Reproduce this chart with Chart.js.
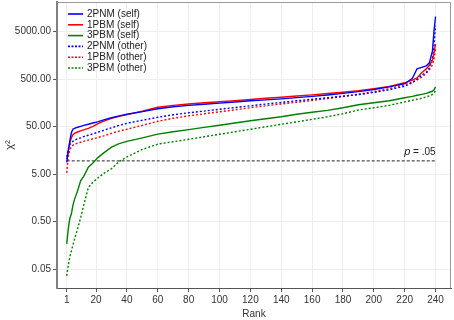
<!DOCTYPE html>
<html>
<head>
<meta charset="utf-8">
<script src="https://cdn.jsdelivr.net/npm/chart.js@4/dist/chart.umd.min.js"></script>
<style>
html, body { margin: 0; padding: 0; background: #fff; }
</style>
</head>
<body>
<canvas id="chiChart" width="454" height="320"></canvas>
<script>
const ranks = [1,2,3,4,5,6,8,10,12,15,18,21,25,30,35,40,50,60,70,80,90,100,110,120,130,140,150,160,170,180,190,200,210,220,225,228,231,234,236,238,239,240];

const pnm2Self = [8.8,15.5,25,37,44,46, 48.4,50.7,53,56,59.5,63,69.5, 76.6,84,91,103.5,118.5, 130.6,140,148,156,165,175,183,192,204, 216,231,250,273,303,344,400, 520,824,885,953,1100,1970,5200,10400];
const pbm1Self = [10.4,14.7,22.8,29,33.6,36, 38.5,40.8,42.8,46,50.7,57,65, 74.5,82,89.5,105,128, 140,150,159,167,176,186,197,208,220, 233,248,265,286,315,352,418, 475,530,680,820,980,1250,1800,2730];
const pbm3Self = [0.17,0.35,0.58,0.72,1.1,1.45, 2.2,3.6,4.5,7,8.6,11,14, 18.5,22,24.5,29,34.7, 38.9,43.2,48.1,53.5,59.5,66.2,73,80.4,90.8, 100,110,124.4,144,158.6,175,202, 217,228,239,251,264,277,298,344];
const pnm2Other = [11.6,17,20.7,22.8,24.5,25.8, 27.7,29,30.8,32.8,35.3,37.9,41.8, 47.2,53,58.7,67.9,78.5, 88.6,97.7,106,116,126,137,149,161,175, 188,202,219,236,262,298,355, 420,500,601,695,865,1337,2510,6620];
const pbm1Other = [5.3,11.6,16.2,18.8,20.2,21.2, 22.3,23.4,24.5,26,27.7,29.3,32, 36.1,40.2,43.9,53,64.7, 75,84.4,93,102.5,113,124.4,137,150,163, 177,195,215,240,272,315,385, 430,480,546,662,785,1000,1337,2170];
const pbm3Other = [0.036,0.06,0.09,0.12,0.16,0.21, 0.35,0.6,1.1,2.6,3.4,4.1,5.2, 6.5,9.2,11.5,16.5,21.4, 24,27,30.5,34.4,38.9,43.9,49.5,56,63, 71,80.4,93,112,124.4,140,166, 179,188,197,212,222,239,257,284];

const pCrit = 9.49;      // chi-square critical value, p = .05
const pLineRanks = [1, 240];
const xTicks = [1,20,40,60,80,100,120,140,160,180,200,220,240];
const yTicks = [0.05,0.5,5,50,500,5000];

const FONT = 'Arial, "Liberation Sans", sans-serif';

function pts(vals) {
    return ranks.map((r, i) => ({x: r, y: vals[i]}));
}

function series(label, vals, color, dotted) {
    return {
        label: label,
        data: pts(vals),
        borderColor: color,
        backgroundColor: color,
        borderWidth: 1.4,
        borderDash: dotted ? [2, 2] : [],
        pointRadius: 0,
        tension: 0
    };
}

// legend drawn inside the plot, top left
const innerLegend = {
    id: 'innerLegend',
    afterDraw(chart) {
        const ctx = chart.ctx;
        const area = chart.chartArea;
        ctx.save();
        ctx.font = '10px ' + FONT;
        ctx.textBaseline = 'middle';
        let row = 0;
        chart.data.datasets.forEach(ds => {
            if (ds.noLegend) return;
            const y = area.top + 12 + row * 10.8;
            ctx.strokeStyle = ds.borderColor;
            ctx.lineWidth = 1.6;
            ctx.setLineDash(ds.borderDash.length ? [2, 1.5] : []);
            ctx.beginPath();
            ctx.moveTo(area.left + 11, y);
            ctx.lineTo(area.left + 26, y);
            ctx.stroke();
            ctx.setLineDash([]);
            ctx.fillStyle = '#222';
            ctx.fillText(ds.label, area.left + 30, y);
            row++;
        });
        ctx.restore();
    }
};

// frame + p = .05 label
const extras = {
    id: 'extras',
    afterDraw(chart) {
        const ctx = chart.ctx;
        const a = chart.chartArea;
        const xs = chart.scales.x, ys = chart.scales.y;
        ctx.save();
        ctx.strokeStyle = '#9a9a9a';
        ctx.lineWidth = 1;
        ctx.beginPath();
        ctx.moveTo(a.left, a.top + 0.5);
        ctx.lineTo(a.right - 0.5, a.top + 0.5);
        ctx.lineTo(a.right - 0.5, a.bottom);
        ctx.stroke();

        const px = xs.getPixelForValue(pLineRanks[1]);
        const py = ys.getPixelForValue(pCrit) - 9;
        ctx.fillStyle = '#222';
        ctx.textBaseline = 'middle';
        ctx.textAlign = 'left';
        ctx.font = '10px ' + FONT;
        const rest = ' = .05';
        const wRest = ctx.measureText(rest).width;
        ctx.font = 'italic 11px ' + FONT;
        const wP = ctx.measureText('p').width;
        const x0 = px - wRest - wP;
        ctx.fillText('p', x0, py);
        ctx.font = '10px ' + FONT;
        ctx.fillText(rest, x0 + wP, py);
        ctx.restore();
    }
};

const datasets = [
    series('2PNM (self)', pnm2Self, '#0000ff', false),
    series('1PBM (self)', pbm1Self, '#ff0000', false),
    series('3PBM (self)', pbm3Self, '#008000', false),
    series('2PNM (other)', pnm2Other, '#0000ff', true),
    series('1PBM (other)', pbm1Other, '#ff0000', true),
    series('3PBM (other)', pbm3Other, '#008000', true)
];
datasets.push({
    label: 'p = .05',
    noLegend: true,
    data: pLineRanks.map(r => ({x: r, y: pCrit})),
    borderColor: '#222',
    borderWidth: 1,
    borderDash: [3, 2],
    pointRadius: 0
});

new Chart(document.getElementById('chiChart'), {
    type: 'line',
    data: { datasets: datasets },
    plugins: [innerLegend, extras],
    options: {
        responsive: false,
        animation: false,
        devicePixelRatio: 1,
        layout: { padding: { top: 2, right: 3, left: 0, bottom: 0 } },
        plugins: { legend: { display: false }, tooltip: { enabled: false } },
        scales: {
            x: {
                type: 'linear',
                min: -5.3,
                max: 250,
                afterBuildTicks: s => { s.ticks = xTicks.map(v => ({value: v})); },
                afterFit: s => { s.height = 32; s.paddingLeft = 0; s.paddingRight = 0; },
                ticks: { autoSkip: false, maxRotation: 0, padding: 2, color: '#333', font: {size: 10, family: FONT} },
                grid: { color: '#eeeeee', tickLength: 4, tickColor: '#555' },
                border: { color: '#555', width: 1 },
                title: { display: true, text: 'Rank', color: '#333', font: {size: 10, family: FONT}, padding: {top: 0, bottom: 0} }
            },
            y: {
                type: 'logarithmic',
                min: 0.02,
                max: 21000,
                afterBuildTicks: s => { s.ticks = yTicks.map(v => ({value: v})); },
                afterFit: s => { s.width = 57; s.paddingTop = 0; s.paddingBottom = 0; },
                ticks: { autoSkip: false, padding: 2, color: '#333', font: {size: 10, family: FONT},
                    callback: v => Number(v).toFixed(2) },
                grid: { color: '#eeeeee', tickLength: 4, tickColor: '#555' },
                border: { color: '#808080', width: 2 },
                title: { display: true, text: 'χ²', color: '#333', font: {size: 11, family: FONT}, padding: {top: 3, bottom: 0} }
            }
        }
    }
});
</script>
</body>
</html>
